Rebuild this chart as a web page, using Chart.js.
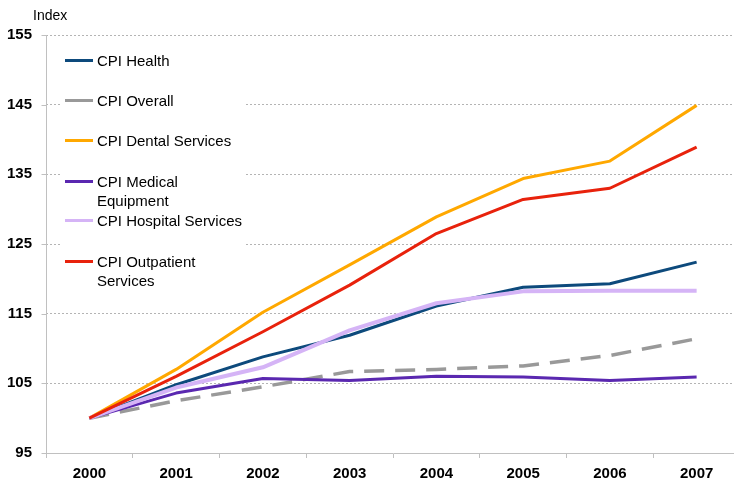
<!DOCTYPE html>
<html>
<head>
<meta charset="utf-8">
<script src="https://cdn.jsdelivr.net/npm/chart.js@4/dist/chart.umd.min.js"></script>
<style>
  html, body { margin: 0; padding: 0; background: #fff; overflow: hidden; }
  #wrap { position: relative; width: 734px; height: 489px; overflow: hidden; font-family: "Liberation Sans", Arial, sans-serif; }
  #titre { position: absolute; left: 33px; top: 7px; font-size: 14px; color: #000; }
  #legende { position: absolute; left: 61px; top: 45px; width: 185px; height: 245px; background: #fff; }
  .entree { position: absolute; left: 0; font-size: 15px; line-height: 19px; color: #000; }
  .trait { position: absolute; left: 4px; top: 8px; width: 28px; height: 3px; }
  .texte { position: absolute; left: 36px; top: 0; width: 160px; }
</style>
</head>
<body>
<div id="wrap">
  <canvas id="cpiChart" width="740" height="489"></canvas>
  <div id="titre">Index</div>
  <div id="legende"></div>
</div>
<script>
// Données (indice, base 2000 = 100)
const annees = ["2000", "2001", "2002", "2003", "2004", "2005", "2006", "2007"];
const cpiSante      = [100, 104.8, 108.8, 111.9, 116.1, 118.8, 119.3, 122.4];
const cpiGlobal     = [100, 102.5, 104.5, 106.7, 107.0, 107.5, 109.0, 111.4];
const cpiDentaire   = [100, 107.0, 115.2, 122.0, 128.9, 134.4, 136.9, 144.9];
const cpiEquipement = [100, 103.6, 105.7, 105.4, 106.0, 105.9, 105.4, 105.9];
const cpiHopital    = [100, 104.4, 107.3, 112.6, 116.5, 118.2, 118.3, 118.3];
const cpiExterne    = [100, 106.0, 112.4, 119.1, 126.5, 131.4, 133.0, 138.9];
const ticksY = [95, 105, 115, 125, 135, 145, 155];

const series = [
    { label: "CPI Health", data: cpiSante, color: "#0d4a7c", width: 3 },
    { label: "CPI Overall", data: cpiGlobal, color: "#999999", width: 3.5, dash: [20, 11] },
    { label: "CPI Dental Services", data: cpiDentaire, color: "#ffa800", width: 3 },
    { label: "CPI Medical Equipment", data: cpiEquipement, color: "#5a28b0", width: 3 },
    { label: "CPI Hospital Services", data: cpiHopital, color: "#d5b4f6", width: 4 },
    { label: "CPI Outpatient Services", data: cpiExterne, color: "#e8220c", width: 3 }
];

// Légende HTML (texte réel), positions verticales
const legendeLignes = [
    ["CPI Health"], ["CPI Overall"], ["CPI Dental Services"],
    ["CPI Medical", "Equipment"], ["CPI Hospital Services"], ["CPI Outpatient", "Services"]
];
const legendeHaut = [6, 46, 86, 127, 166, 207];

const legende = document.getElementById("legende");
series.forEach((s, i) => {
    const div = document.createElement("div");
    div.className = "entree";
    div.style.top = legendeHaut[i] + "px";
    div.innerHTML = `<div class="trait" style="background:${s.color}"></div>
        <div class="texte">${legendeLignes[i].join("<br>")}</div>`;
    legende.appendChild(div);
});

// Axe vertical plein + petites graduations (les lignes de grille sont pointillées)
const axeY = {
    id: "axeY",
    afterDatasetsDraw(chart) {
        const { ctx, chartArea, scales } = chart;
        ctx.save();
        ctx.strokeStyle = "#c0c0c0";
        ctx.lineWidth = 1;
        ctx.beginPath();
        const x = Math.round(chartArea.left) + 0.5;
        ctx.moveTo(x, chartArea.top);
        ctx.lineTo(x, chartArea.bottom);
        ticksY.forEach(v => {
            const y = Math.round(scales.y.getPixelForValue(v)) + 0.5;
            ctx.moveTo(x - 5, y);
            ctx.lineTo(x, y);
        });
        ctx.stroke();
        ctx.restore();
    }
};

new Chart(document.getElementById("cpiChart"), {
    type: "line",
    data: {
        labels: annees,
        datasets: series.map((s, i) => ({
            label: s.label,
            data: s.data,
            borderColor: s.color,
            backgroundColor: s.color,
            borderWidth: s.width,
            borderDash: s.dash || [],
            borderJoinStyle: "round",
            borderCapStyle: "butt",
            pointRadius: 0,
            tension: 0,
            fill: false,
            order: series.length - i
        }))
    },
    options: {
        responsive: false,
        devicePixelRatio: 1,
        animation: false,
        layout: { padding: { top: 35, left: 0, right: 0, bottom: 0 } },
        plugins: { legend: { display: false }, tooltip: { enabled: false } },
        scales: {
            x: {
                offset: true,
                afterFit: (scale) => { scale.height = 36; },
                grid: {
                    offset: true,
                    drawOnChartArea: false,
                    drawTicks: true,
                    tickLength: 5,
                    color: "#c0c0c0"
                },
                border: { color: "#c0c0c0", width: 1 },
                ticks: {
                    color: "#000",
                    padding: 7,
                    maxRotation: 0,
                    font: { family: "Liberation Sans", size: 15, weight: "bold" }
                }
            },
            y: {
                min: 95,
                max: 155,
                afterFit: (scale) => { scale.width = 46; },
                afterBuildTicks: (scale) => { scale.ticks = ticksY.map(v => ({ value: v })); },
                grid: {
                    drawTicks: false,
                    color: (ctx) => ctx.tick && ctx.tick.value === 95 ? "rgba(0,0,0,0)" : "#b4b4b4",
                    lineWidth: 1
                },
                border: { display: false, dash: [2, 2] },
                ticks: {
                    color: "#000",
                    padding: 14,
                    font: { family: "Liberation Sans", size: 15, weight: "bold" }
                }
            }
        }
    },
    plugins: [axeY]
});
</script>
</body>
</html>
